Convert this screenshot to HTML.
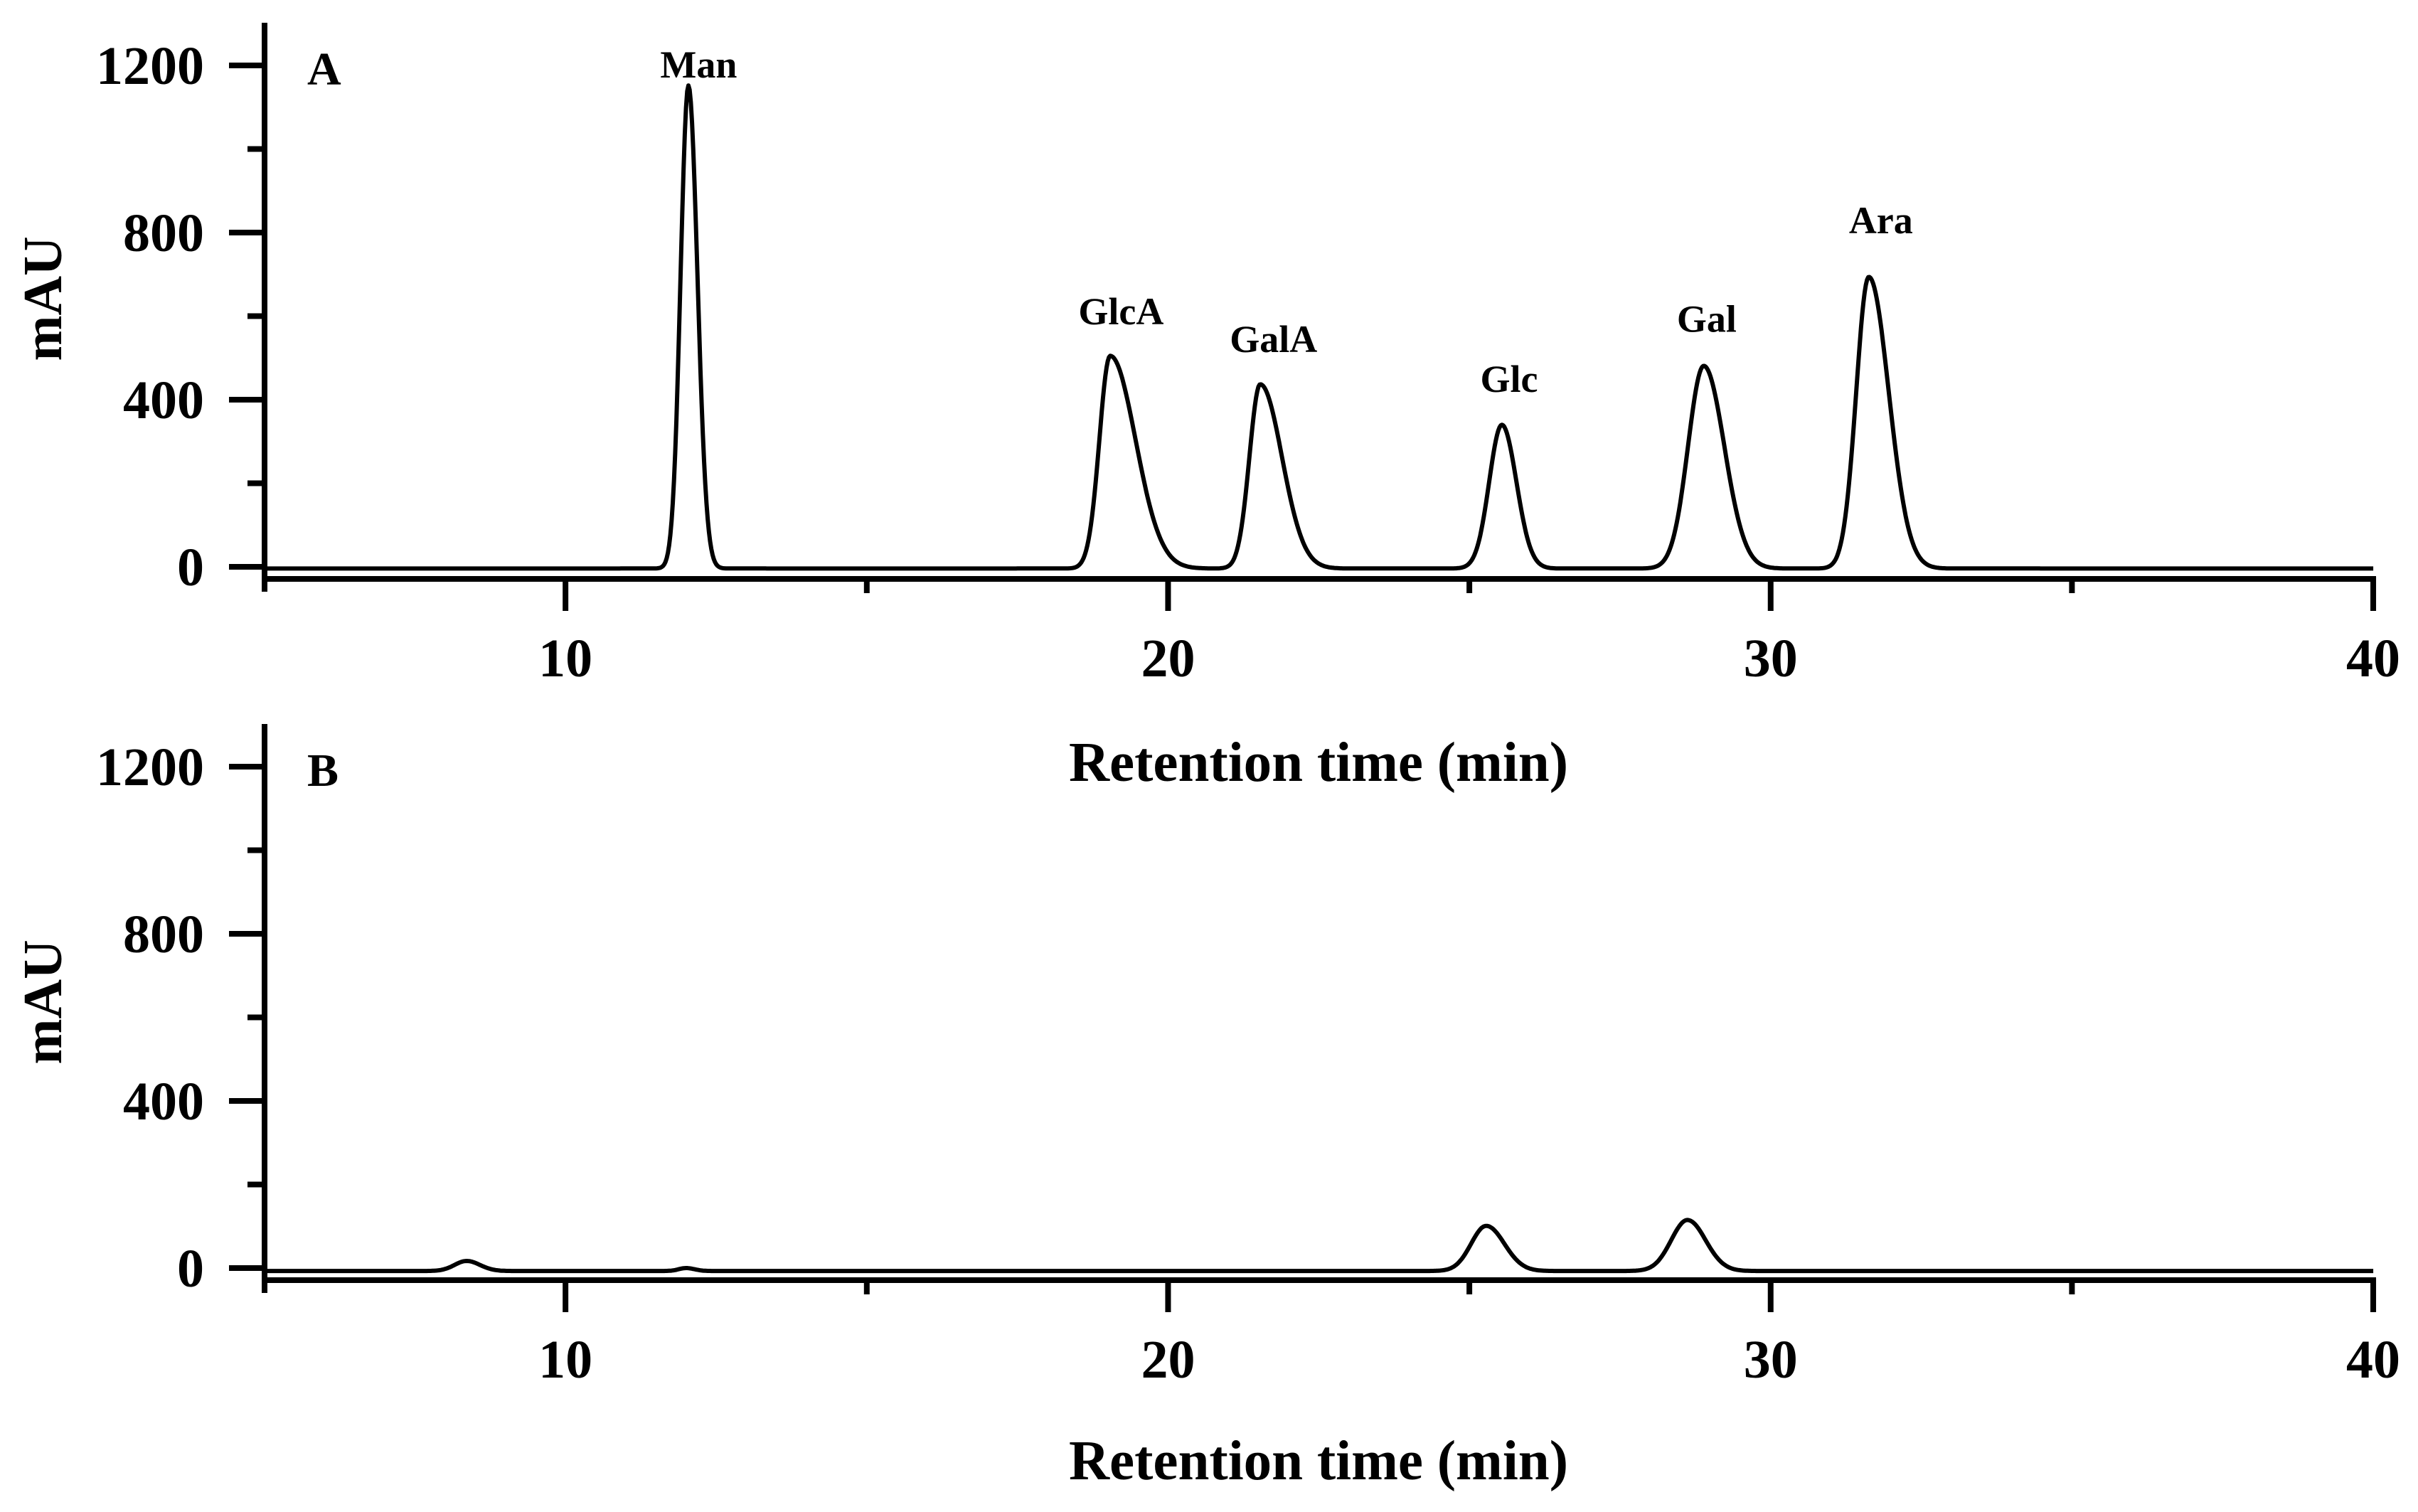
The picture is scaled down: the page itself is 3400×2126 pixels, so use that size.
<!DOCTYPE html>
<html><head><meta charset="utf-8"><style>
html,body{margin:0;padding:0;background:#fff;}
svg{display:block;}
text{font-family:"Liberation Serif","Times New Roman",serif;font-weight:bold;fill:#000;}
</style></head><body>
<svg id="chart" width="3400" height="2126" viewBox="0 0 3400 2126" xmlns="http://www.w3.org/2000/svg"></svg>
<script>
// Panel A peaks (standards)
const peakNamesA = ["Man","GlcA","GalA","Glc","Gal","Ara"];
const peakTimesA = [12.04,19.04,21.53,25.54,28.89,31.63];
const peakHeightsA = [1156,509,441,344,485,698];
const peakSigmaLeftA = [0.13,0.18,0.18,0.21,0.26,0.21];
const peakSigmaRightA = [0.15,0.42,0.36,0.24,0.34,0.33];
const labelTimesA = [12.21,19.22,21.75,25.66,28.94,31.83];
const labelLevelsA = [1202,611,545,449,593,829];
const baselineA = -4;
// Panel B peaks (sample)
const peakTimesB = [8.36,12.0,25.28,28.62];
const peakHeightsB = [24,7,108,122];
const peakSigmaLeftB = [0.2,0.12,0.25,0.27];
const peakSigmaRightB = [0.22,0.14,0.3,0.3];
const baselineB = -7;
// Axis ticks
const xMajorTicks = [10,20,30,40];
const xMinorTicks = [15,25,35];
const yMajorTicks = [0,400,800,1200];
const yMinorTicks = [200,600,1000];

const svg = document.getElementById('chart');
const NS = 'http://www.w3.org/2000/svg';
function mk(tag, attrs, parent){
  const e = document.createElementNS(NS, tag);
  for (const k in attrs) e.setAttribute(k, attrs[k]);
  (parent||svg).appendChild(e);
  return e;
}
const X0 = 371.5, XS = 84.73; // px per minute
function xs(t){ return X0 + (t-5)*XS; }

function drawPanel(p){
  const off = p.off;
  const ys = v => 797 + off - v*0.5875;
  const g = mk('g', {});
  
  
  const ya = mk('line', {x1:372, y1:32+off, x2:372, y2:832+off, stroke:'#000','stroke-width':8}, g);
  
  
  const xa = mk('line', {x1:368, y1:814+off, x2:3341, y2:814+off, stroke:'#000','stroke-width':8}, g);
  
  
  yMajorTicks.forEach(v=>{
    const t = mk('line', {x1:322, y1:ys(v), x2:372, y2:ys(v), stroke:'#000','stroke-width':8}, g);
    
    
    const l = mk('text', {x:287, y:ys(v)+26, 'font-size':76, 'text-anchor':'end'}, g);
    l.textContent = v;
    
    
  });
  yMinorTicks.forEach(v=>{
    const t = mk('line', {x1:348, y1:ys(v), x2:372, y2:ys(v), stroke:'#000','stroke-width':8}, g);
    
    
  });
  xMajorTicks.forEach(v=>{
    const t = mk('line', {x1:xs(v), y1:811+off, x2:xs(v), y2:859+off, stroke:'#000','stroke-width':8}, g);
    
    
    const l = mk('text', {x:xs(v), y:951+off, 'font-size':76, 'text-anchor':'middle'}, g);
    l.textContent = v;
    
    
  });
  xMinorTicks.forEach(v=>{
    const t = mk('line', {x1:xs(v), y1:811+off, x2:xs(v), y2:834+off, stroke:'#000','stroke-width':8}, g);
    
    
  });
  const yt = mk('text', {x:0, y:0, 'font-size':77, 'text-anchor':'middle', transform:`translate(86,${p.ylabY}) rotate(-90)`}, g);
  yt.textContent = 'mAU';
  
  
  const xt = mk('text', {x:1854, y:p.xtitleY, 'font-size':79, 'text-anchor':'middle'}, g);
  xt.textContent = 'Retention time (min)';
  
  
  const pl = mk('text', {x:432, y:119+off, 'font-size':66}, g);
  pl.textContent = p.letter;
  
  
  let pts = [];
  for (let i=0;i<=1750;i++){
    const t = 5 + i*0.02;
    let v = p.base;
    for (let k=0;k<p.times.length;k++){
      const d = t - p.times[k];
      const s = d<0 ? p.sl[k] : p.sr[k];
      v += p.heights[k]*Math.exp(-0.5*(d/s)*(d/s));
    }
    pts.push(xs(t).toFixed(1)+','+ys(v).toFixed(1));
  }
  const tr = mk('polyline', {points:pts.join(' '), fill:'none', stroke:'#000','stroke-width':6,'stroke-linejoin':'round'}, g);
  
  
  if (p.names){
    p.names.forEach((n,k)=>{
      const l = mk('text', {x:xs(p.labelT[k]), y:ys(p.labelV[k])+18, 'font-size':54, 'text-anchor':'middle'}, g);
      l.textContent = n;
      
      
    });
  }
}
drawPanel({name:'panel-a', off:0, letter:'A', ylabY:420, xtitleY:1098, base:baselineA,
  names:peakNamesA, labelT:labelTimesA, labelV:labelLevelsA,
  times:peakTimesA, heights:peakHeightsA, sl:peakSigmaLeftA, sr:peakSigmaRightA});
drawPanel({name:'panel-b', off:986, letter:'B', ylabY:1409, xtitleY:2080, base:baselineB,
  names:null, times:peakTimesB, heights:peakHeightsB, sl:peakSigmaLeftB, sr:peakSigmaRightB});
</script>
</body></html>
